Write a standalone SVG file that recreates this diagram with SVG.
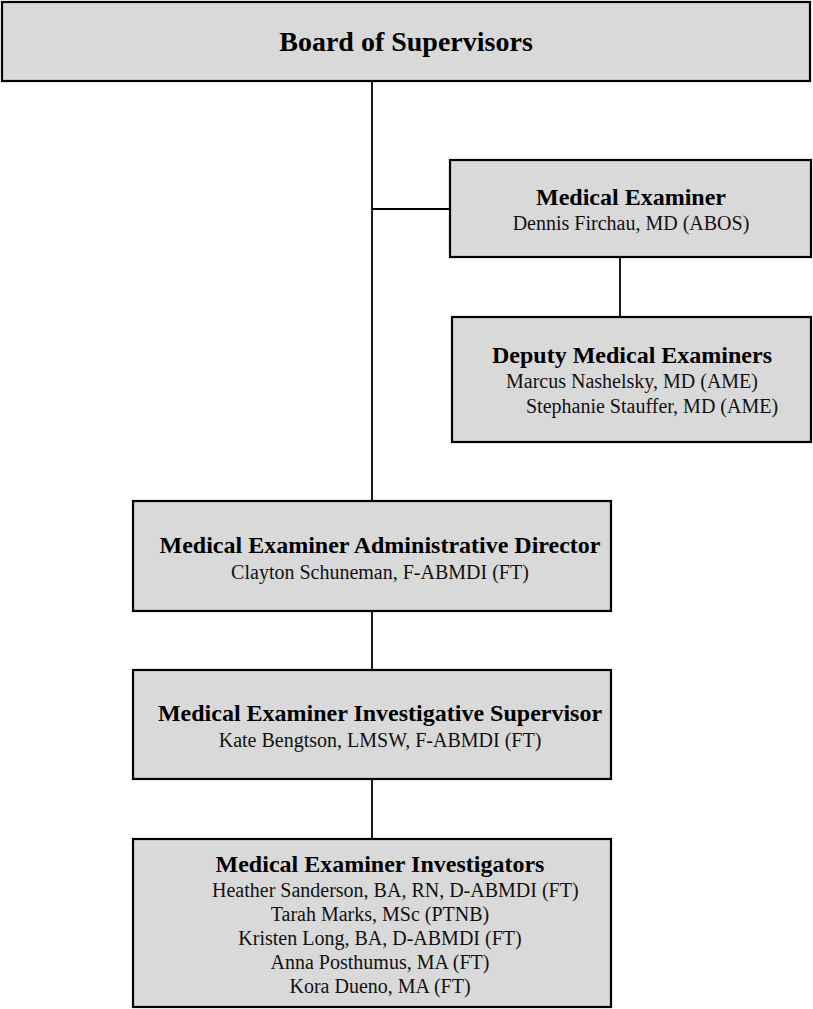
<svg xmlns="http://www.w3.org/2000/svg" width="813" height="1009" viewBox="0 0 813 1009">
<style>
.box{fill:#d9d9d9;stroke:#000;stroke-width:2.2}
.t{font-family:"Liberation Serif","Times New Roman",serif;font-weight:bold;font-size:24px;fill:#000;text-anchor:middle}
.n{font-family:"Liberation Serif","Times New Roman",serif;font-size:20px;fill:#111;text-anchor:middle}
.c{stroke:#000;stroke-width:1.8;fill:none}
</style>
<rect width="813" height="1009" fill="#fff"/>
<g id="connectors">
<line class="c" x1="372" y1="81" x2="372" y2="501"/>
<line class="c" x1="372" y1="209" x2="450" y2="209"/>
<line class="c" x1="620" y1="257" x2="620" y2="317"/>
<line class="c" x1="372" y1="611" x2="372" y2="670"/>
<line class="c" x1="372" y1="779" x2="372" y2="839"/>
</g>
<g id="board">
<rect class="box" x="2" y="2" width="808" height="79"/>
<text class="t" x="406" y="51" style="font-size:28px">Board of Supervisors</text>
</g>
<g id="medical-examiner">
<rect class="box" x="450" y="160" width="361" height="97"/>
<text class="t" x="631" y="205">Medical Examiner</text>
<text class="n" x="631" y="230">Dennis Firchau, MD (ABOS)</text>
</g>
<g id="deputy">
<rect class="box" x="452" y="317" width="359" height="125"/>
<text class="t" x="632" y="363">Deputy Medical Examiners</text>
<text class="n" x="632" y="388">Marcus Nashelsky, MD (AME)</text>
<text class="n" x="526" y="413" style="text-anchor:start">Stephanie Stauffer, MD (AME)</text>
</g>
<g id="admin-director">
<rect class="box" x="133" y="501" width="478" height="110"/>
<text class="t" x="380" y="553">Medical Examiner Administrative Director</text>
<text class="n" x="380" y="579">Clayton Schuneman, F-ABMDI (FT)</text>
</g>
<g id="investigative-supervisor">
<rect class="box" x="133" y="670" width="478" height="109"/>
<text class="t" x="380" y="721">Medical Examiner Investigative Supervisor</text>
<text class="n" x="380" y="747">Kate Bengtson, LMSW, F-ABMDI (FT)</text>
</g>
<g id="investigators">
<rect class="box" x="133" y="839" width="478" height="168"/>
<text class="t" x="380" y="872">Medical Examiner Investigators</text>
<text class="n" x="212" y="897" style="text-anchor:start">Heather Sanderson, BA, RN, D-ABMDI (FT)</text>
<text class="n" x="380" y="921">Tarah Marks, MSc (PTNB)</text>
<text class="n" x="380" y="945">Kristen Long, BA, D-ABMDI (FT)</text>
<text class="n" x="380" y="969">Anna Posthumus, MA (FT)</text>
<text class="n" x="380" y="993">Kora Dueno, MA (FT)</text>
</g>
</svg>
